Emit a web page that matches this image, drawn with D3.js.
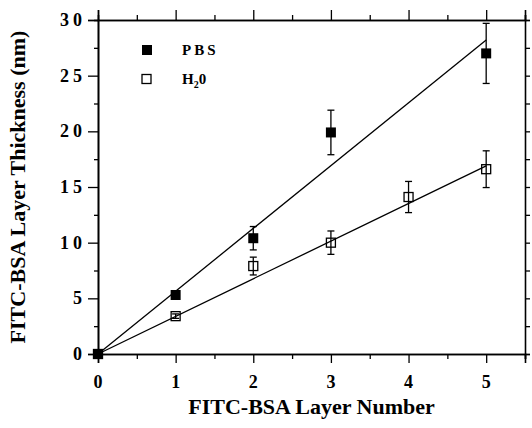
<!DOCTYPE html>
<html>
<head>
<meta charset="utf-8">
<script src="https://cdn.jsdelivr.net/npm/d3@7"></script>
<style>
  body { margin: 0; background: #fff; }
  svg { display: block; }
</style>
</head>
<body>
<div id="chart"></div>
<script>
// FITC-BSA layer thickness vs. layer number, PBS vs. water

const xTicks = [0, 1, 2, 3, 4, 5];
const yTicks = [0, 5, 10, 15, 20, 25, 30];

const pbsLayers = [0, 1, 2, 3, 5];
const pbsThickness = [0, 5.3, 10.4, 19.9, 27.0];
const pbsError = [0, 0.3, 1.05, 2.0, 2.7];

const h2oLayers = [0, 1, 2, 3, 4, 5];
const h2oThickness = [0, 3.4, 7.9, 10.0, 14.1, 16.6];
const h2oError = [0, 0.2, 0.8, 1.05, 1.4, 1.65];

// linear fits through the origin
const fitRange = [0, 5];
const pbsSlope = 5.64;
const h2oSlope = 3.38;

const width = 532, height = 428;
const margin = { top: 20, right: 7, bottom: 74, left: 98 };
const font = "'Liberation Serif', 'Times New Roman', serif";

const svg = d3.select("#chart").append("svg")
  .attr("width", width)
  .attr("height", height);

const x = d3.scaleLinear().domain([0, 5.5]).range([margin.left, width - margin.right]);
const y = d3.scaleLinear().domain([0, 30]).range([height - margin.bottom, margin.top]);

const minorX = d3.range(0.5, 5.6, 1);
const minorY = d3.range(2.5, 30, 5);

// axes: majors outward 10px, minors shorter
function tickAxis(axisFn, scale, ticks, size) {
  return axisFn(scale).tickValues(ticks).tickSize(size).tickFormat("");
}

const gBottom = svg.append("g").attr("transform", `translate(0,${y(0)})`);
gBottom.call(tickAxis(d3.axisBottom, x, xTicks, 9));
gBottom.append("g").call(tickAxis(d3.axisBottom, x, minorX, 5));

const gTop = svg.append("g").attr("transform", `translate(0,${y(30)})`);
gTop.call(tickAxis(d3.axisTop, x, xTicks, 10));
gTop.append("g").call(tickAxis(d3.axisTop, x, minorX, 5));

const gLeft = svg.append("g").attr("transform", `translate(${x(0)},0)`);
gLeft.call(tickAxis(d3.axisLeft, y, yTicks, 10));
gLeft.append("g").call(tickAxis(d3.axisLeft, y, minorY, 4));

const gRight = svg.append("g").attr("transform", `translate(${x(5.5)},0)`);
gRight.call(tickAxis(d3.axisRight, y, d3.range(0, 30.1, 2.5), 5));

svg.selectAll(".domain").attr("stroke", "#000").attr("stroke-width", 1.6);
svg.selectAll(".tick line").attr("stroke", "#000").attr("stroke-width", 1.3);

// tick labels
svg.append("g").selectAll("text")
  .data(xTicks)
  .join("text")
  .attr("x", d => x(d))
  .attr("y", y(0) + 34)
  .attr("text-anchor", "middle")
  .attr("font-family", font)
  .attr("font-weight", "bold")
  .attr("font-size", 18)
  .text(d => d);

svg.append("g").selectAll("text")
  .data(yTicks)
  .join("text")
  .attr("x", x(0) - 12)
  .attr("y", d => y(d) + 6)
  .attr("text-anchor", "end")
  .attr("font-family", font)
  .attr("font-weight", "bold")
  .attr("font-size", 18)
  .attr("letter-spacing", 4)
  .text(d => d);

// axis titles
svg.append("text")
  .attr("x", (x(0) + x(5.5)) / 2)
  .attr("y", 414)
  .attr("text-anchor", "middle")
  .attr("font-family", font)
  .attr("font-weight", "bold")
  .attr("font-size", 22)
  .text("FITC-BSA Layer Number");

svg.append("text")
  .attr("transform", `translate(25,${(y(0) + y(30)) / 2}) rotate(-90)`)
  .attr("text-anchor", "middle")
  .attr("font-family", font)
  .attr("font-weight", "bold")
  .attr("font-size", 22)
  .text("FITC-BSA Layer Thickness (nm)");

// fit lines
const fits = [pbsSlope, h2oSlope];
svg.append("g").selectAll("line")
  .data(fits)
  .join("line")
  .attr("x1", x(fitRange[0]))
  .attr("y1", d => y(d * fitRange[0]))
  .attr("x2", x(fitRange[1]))
  .attr("y2", d => y(d * fitRange[1]))
  .attr("stroke", "#000")
  .attr("stroke-width", 1.3);

// error bars
function errorBars(xs, ys, es) {
  const g = svg.append("g").attr("stroke", "#000").attr("stroke-width", 1.3);
  xs.forEach((xv, i) => {
    if (!es[i]) return;
    const cx = x(xv), lo = y(ys[i] - es[i]), hi = y(ys[i] + es[i]);
    g.append("line").attr("x1", cx).attr("x2", cx).attr("y1", lo).attr("y2", hi);
    g.append("line").attr("x1", cx - 3.5).attr("x2", cx + 3.5).attr("y1", lo).attr("y2", lo);
    g.append("line").attr("x1", cx - 3.5).attr("x2", cx + 3.5).attr("y1", hi).attr("y2", hi);
  });
}
errorBars(pbsLayers, pbsThickness, pbsError);
errorBars(h2oLayers, h2oThickness, h2oError);

// markers
const s = 10;
svg.append("g").selectAll("rect")
  .data(h2oLayers.map((d, i) => [d, h2oThickness[i]]))
  .join("rect")
  .attr("x", d => x(d[0]) - s / 2 + 0.5)
  .attr("y", d => y(d[1]) - s / 2 + 0.5)
  .attr("width", s - 1)
  .attr("height", s - 1)
  .attr("fill", "none")
  .attr("stroke", "#000")
  .attr("stroke-width", 1.3);

svg.append("g").selectAll("rect")
  .data(pbsLayers.map((d, i) => [d, pbsThickness[i]]))
  .join("rect")
  .attr("x", d => x(d[0]) - s / 2)
  .attr("y", d => y(d[1]) - s / 2)
  .attr("width", s)
  .attr("height", s)
  .attr("fill", "#000");

// legend
const legend = svg.append("g").attr("font-family", font).attr("font-weight", "bold");
legend.append("rect").attr("x", 142).attr("y", 45).attr("width", 10).attr("height", 10).attr("fill", "#000");
legend.append("text").attr("x", 182).attr("y", 55).attr("font-size", 15).attr("letter-spacing", 3).text("PBS");
legend.append("rect").attr("x", 142).attr("y", 74.5).attr("width", 9).attr("height", 9)
  .attr("fill", "none").attr("stroke", "#000").attr("stroke-width", 1.3);
const h2o = legend.append("text").attr("x", 182).attr("y", 84).attr("font-size", 15);
h2o.append("tspan").text("H");
h2o.append("tspan").attr("font-size", 10).attr("dy", 4).text("2");
h2o.append("tspan").attr("dy", -4).text("0");
</script>
</body>
</html>
